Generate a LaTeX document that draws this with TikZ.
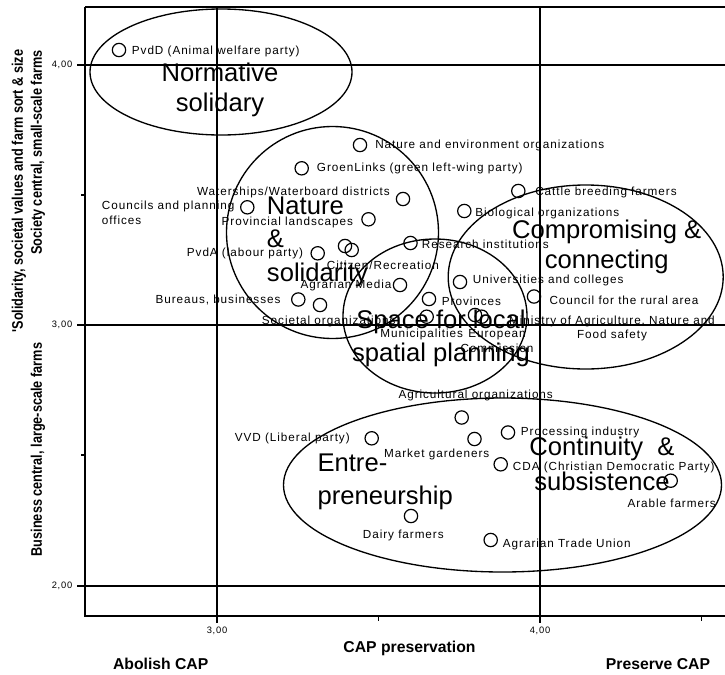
\documentclass[tikz,border=0pt]{standalone}
\usepackage{fontspec}
\setmainfont{Liberation Sans}
\newfontfamily\lblfont[LetterSpace=8]{Liberation Sans}
\newfontfamily\axfont[FakeStretch=0.83]{Liberation Sans}
\tikzset{
  actor/.style={circle, draw, line width=0.9pt, minimum size=10pt, inner sep=0pt},
  lbl/.style={inner sep=0pt, font=\lblfont\fontsize{8.8}{10.8}\selectfont},
  ticklbl/.style={inner sep=0pt, font=\lblfont\fontsize{7}{8}\selectfont},
  bigtxt/.style={inner sep=0pt, font=\fontsize{19.2}{22.5}\selectfont},
  axtitle/.style={inner sep=0pt, font=\bfseries\fontsize{11.8}{14}\selectfont},
  sidetitle/.style={inner sep=0pt, rotate=90, font=\axfont\bfseries\fontsize{11.5}{14}\selectfont},
  refline/.style={line width=1pt},
  cluster/.style={line width=1pt}
}
\begin{document}
\begin{tikzpicture}[x=0.75pt,y=-0.75pt]
\useasboundingbox (0,0) rectangle (725,675);
\draw[refline] (77,65) -- (725,65);
\draw[refline] (77,325) -- (725,325);
\draw[refline] (77,586) -- (725,586);
\draw[refline] (217,7) -- (217,623);
\draw[refline] (540,7) -- (540,623);
\draw[line width=1pt] (85,7) -- (725,7);
\draw[line width=1.9pt] (85,7) -- (85,616);
\draw[line width=2.2pt] (84,616) -- (725,616);
\draw[line width=1pt] (81,195) -- (85,195);
\draw[line width=1pt] (81,455) -- (85,455);
\draw[line width=1pt] (378.5,616) -- (378.5,621);
\draw[line width=1pt] (701.5,616) -- (701.5,621);
\draw[cluster] (221,72) ellipse [x radius=131, y radius=63];
\draw[cluster] (332.5,232.5) ellipse [x radius=106, y radius=106];
\draw[cluster] (435,316) ellipse [x radius=92, y radius=77];
\draw[cluster] (585.7,277) ellipse [x radius=137.5, y radius=92];
\draw[cluster] (502.5,485) ellipse [x radius=219, y radius=87];
\node[ticklbl] (y4) at (62,65) {4,00};
\node[ticklbl] (y3) at (62,325) {3,00};
\node[ticklbl] (y2) at (62,586) {2,00};
\node[ticklbl] (x3) at (217,631) {3,00};
\node[ticklbl] (x4) at (540,631) {4,00};
\node[axtitle] (xtitle) at (409.5,648) {CAP preservation};
\node[axtitle] (abolish) at (160.7,664) {Abolish CAP};
\node[axtitle] (preserve) at (658,664) {Preserve CAP};
\node[sidetitle] (ytitle) at (19,191) {'Solidarity, societal values and farm sort \& size};
\node[sidetitle] (society) at (38,152.6) {Society central, small-scale farms};
\node[sidetitle] (business) at (38,449.6) {Business central, large-scale farms};
\node[actor] (pvdd) at (119,50) {};
\node[actor] (natenv) at (360,145) {};
\node[actor] (groen) at (301.7,168.3) {};
\node[actor] (water) at (403,199) {};
\node[actor] (councils) at (247.3,207.3) {};
\node[actor] (provland) at (368.5,219.3) {};
\node[actor] (pvda) at (317.7,253.3) {};
\node[actor] (citA) at (345,246) {};
\node[actor] (citB) at (351.7,250) {};
\node[actor] (research) at (410.5,243) {};
\node[actor] (agrmedia) at (400,285) {};
\node[actor] (bureaus) at (298.3,299.5) {};
\node[actor] (societal) at (320,305) {};
\node[actor] (cattle) at (518.3,191) {};
\node[actor] (bio) at (464.3,211) {};
\node[actor] (univ) at (460,282) {};
\node[actor] (provinces) at (429,299) {};
\node[actor] (ruralc) at (534,296.5) {};
\node[actor] (municip) at (426.7,316.7) {};
\node[actor] (eurocom) at (475,315) {};
\node[actor] (ministry) at (481.7,316.7) {};
\node[actor] (agrorg) at (461.7,417.5) {};
\node[actor] (vvd) at (371.7,438.3) {};
\node[actor] (market) at (474.5,439) {};
\node[actor] (process) at (508,432.5) {};
\node[actor] (cda) at (500.7,464.3) {};
\node[actor] (arable) at (670.7,480.7) {};
\node[actor] (dairy) at (411,516) {};
\node[actor] (trade) at (490.7,540) {};
\node[lbl, anchor=west] (pvddlbl) at (131.7,51.7) {PvdD (Animal welfare party)};
\node[lbl, anchor=west] (natenvlbl) at (375,145) {Nature and environment organizations};
\node[lbl, anchor=west] (groenlbl) at (316.7,168.3) {GroenLinks (green left-wing party)};
\node[lbl, anchor=east] (waterlbl) at (390,192.7) {Waterships/Waterboard districts};
\node[lbl, anchor=north west, align=left] (councilslbl) at (101.7,201) {Councils and planning\\offices};
\node[lbl, anchor=east] (provlandlbl) at (353.3,222.7) {Provincial landscapes};
\node[lbl, anchor=east] (pvdalbl) at (303.3,253.3) {PvdA (labour party)};
\node[lbl, anchor=west] (citlbl) at (326.7,265) {Citizen/Recreation};
\node[lbl, anchor=west] (researchlbl) at (421.7,244) {Research institutions};
\node[lbl, anchor=east] (agrmedialbl) at (391.7,285) {Agrarian Media};
\node[lbl, anchor=east] (bureauslbl) at (280.7,300) {Bureaus, businesses};
\node[lbl, anchor=west] (societallbl) at (261.7,321.7) {Societal organizations};
\node[lbl, anchor=west] (cattlelbl) at (535,192.7) {Cattle breeding farmers};
\node[lbl, anchor=west] (biolbl) at (475,213.3) {Biological organizations};
\node[lbl, anchor=west] (univlbl) at (472.7,280) {Universities and colleges};
\node[lbl, anchor=west] (provinceslbl) at (441.7,301) {Provinces};
\node[lbl, anchor=west] (ruralclbl) at (549.3,300) {Council for the rural area};
\node[lbl, align=center] (ministrylbl) at (612,328.5) {Ministry of Agriculture, Nature and\\Food safety};
\node[lbl] (municiplbl) at (421.7,334) {Municipalities};
\node[lbl, align=center] (eurocomlbl) at (497,341) {European\\Commission};
\node[lbl, anchor=west] (agrorglbl) at (398.3,395) {Agricultural organizations};
\node[lbl, anchor=east] (vvdlbl) at (350,438) {VVD (Liberal party)};
\node[lbl] (marketlbl) at (436.7,454) {Market gardeners};
\node[lbl, anchor=west] (processlbl) at (520.7,432.7) {Processing industry};
\node[lbl, anchor=west] (cdalbl) at (512.7,467.3) {CDA (Christian Democratic Party)};
\node[lbl, anchor=east] (arablelbl) at (716,503.3) {Arable farmers};
\node[lbl] (dairylbl) at (403.3,535) {Dairy farmers};
\node[lbl, anchor=west] (tradelbl) at (502.7,544.3) {Agrarian Trade Union};
\node[bigtxt, align=center] (normative) at (220,90) {Normative\\solidary};
\node[bigtxt, align=left, anchor=west, font=\fontsize{19.2}{25}\selectfont] (nature) at (266.7,241.7) {Nature\\\&\\solidarity};
\node[bigtxt, align=center, font=\fontsize{19.2}{24.75}\selectfont] (space) at (441,338) {Space for local\\spatial planning};
\node[bigtxt, align=center] (compromise) at (606.7,246.7) {Compromising \&\\connecting};
\node[bigtxt, align=left, anchor=west, font=\fontsize{19.2}{25}\selectfont] (entre) at (317.3,481.7) {Entre-\\preneurship};
\node[bigtxt, align=center, font=\fontsize{19.2}{26.25}\selectfont] (continuity) at (602,464) {Continuity\ \ \&\\subsistence};
\end{tikzpicture}
\end{document}
